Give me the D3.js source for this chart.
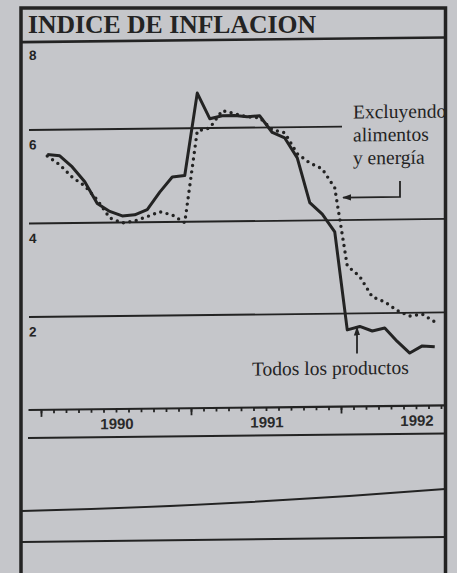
<!DOCTYPE html>
<html>
<head>
<meta charset="utf-8">
<script src="https://cdn.jsdelivr.net/npm/d3@7"></script>
<style>
  html, body { margin: 0; padding: 0; background: #c5c6ca; }
  svg { display: block; }
</style>
</head>
<body>
<svg id="chart" width="457" height="573"></svg>
<script>
// monthly index values, Jan 1990 - Aug 1992
var months = ["1990-01","1990-02","1990-03","1990-04","1990-05","1990-06","1990-07","1990-08","1990-09","1990-10","1990-11","1990-12",
              "1991-01","1991-02","1991-03","1991-04","1991-05","1991-06","1991-07","1991-08","1991-09","1991-10","1991-11","1991-12",
              "1992-01","1992-02","1992-03","1992-04","1992-05","1992-06","1992-07","1992-08"];

// Todos los productos (solid)
var todos = [5.47, 5.44, 5.20, 4.88, 4.41, 4.24, 4.14, 4.16, 4.27, 4.64, 4.96, 4.99,
             6.75, 6.20, 6.26, 6.26, 6.23, 6.25, 5.89, 5.77, 5.34, 4.38, 4.13, 3.75,
             1.65, 1.72, 1.62, 1.68, 1.39, 1.14, 1.29, 1.27];

// Excluyendo alimentos y energia (dotted)
var excluyendo = [5.44, 5.25, 4.98, 4.79, 4.49, 4.10, 3.99, 4.03, 4.12, 4.22, 4.15, 3.98,
                  5.94, 6.00, 6.37, 6.30, 6.23, 6.21, 5.95, 5.88, 5.43, 5.23, 5.10, 4.69,
                  3.02, 2.79, 2.35, 2.24, 2.05, 1.93, 1.97, 1.80];

var yTicks = [2, 4, 6, 8];
var years = ["1990", "1991", "1992"];

var ink = "#232323";
var svg = d3.select("#chart");

var parseMonth = d3.timeParse("%Y-%m");
var start = parseMonth(months[0]);
function monthIndex(m) { return d3.timeMonth.count(start, parseMonth(m)); }

// scales (month index -> x, value -> y)
var x = d3.scaleLinear().domain([0, 24]).range([41, 341]);
var y = d3.scaleLinear().domain([2, 6]).range([317, 130]);

// frame
svg.append("rect")
    .attr("x", 21).attr("y", 8)
    .attr("width", 424.5).attr("height", 570)
    .attr("fill", "none")
    .attr("stroke", ink)
    .attr("stroke-width", 3.5);

svg.append("text")
    .attr("x", 28).attr("y", 33)
    .attr("font-family", "Liberation Serif, Times New Roman, serif")
    .attr("font-weight", "bold")
    .attr("font-size", 26)
    .attr("textLength", 288)
    .attr("lengthAdjust", "spacingAndGlyphs")
    .attr("fill", ink)
    .text("INDICE DE INFLACION");

// the scan is slightly tilted: skew everything inside the frame a little
var k = 0.011;
var g = svg.append("g")
    .attr("transform", "translate(0," + (k * 30) + ") skewY(" + (-Math.atan(k) * 180 / Math.PI) + ")");

// title rule (doubles as the 8 line)
g.append("line")
    .attr("x1", 22).attr("x2", 445)
    .attr("y1", 42).attr("y2", 42)
    .attr("stroke", ink).attr("stroke-width", 2.6);

// grid lines
g.selectAll(".grid")
    .data(yTicks.filter(function(d) { return d < 8; }))
    .enter().append("line")
    .attr("class", "grid")
    .attr("x1", 29)
    .attr("x2", function(d) { return d === 6 ? 342 : 445; })
    .attr("y1", function(d) { return y(d); })
    .attr("y2", function(d) { return y(d); })
    .attr("stroke", ink).attr("stroke-width", 1.8);

// y labels, under each line
g.selectAll(".ylab")
    .data(yTicks)
    .enter().append("text")
    .attr("class", "ylab")
    .attr("x", 29)
    .attr("y", function(d) { return d === 8 ? 60 : y(d) + 19.5; })
    .attr("font-family", "Liberation Sans, Arial, sans-serif")
    .attr("font-weight", "bold")
    .attr("font-size", 13.5)
    .attr("fill", ink)
    .text(function(d) { return d; });

// x axis
var axisY = 410;
g.append("line")
    .attr("x1", x(-1)).attr("x2", 445)
    .attr("y1", axisY).attr("y2", axisY)
    .attr("stroke", ink).attr("stroke-width", 2.2);

g.append("g")
    .attr("transform", "translate(0," + axisY + ")")
    .call(d3.axisBottom(x).tickValues(d3.range(0, 33)).tickSize(3.5).tickFormat(""));
g.append("g")
    .attr("transform", "translate(0," + axisY + ")")
    .call(d3.axisBottom(x).tickValues([0, 12, 24]).tickSize(7).tickFormat(""));
g.selectAll(".domain").remove();
g.selectAll(".tick line").attr("stroke", ink).attr("stroke-width", 1.8);

g.selectAll(".year")
    .data(years)
    .enter().append("text")
    .attr("class", "year")
    .attr("x", function(d, i) { return x(i * 12 + 6) + 1; })
    .attr("y", axisY + 20)
    .attr("text-anchor", "middle")
    .attr("font-family", "Liberation Sans, Arial, sans-serif")
    .attr("font-weight", "bold")
    .attr("font-size", 15)
    .attr("fill", "#2a2a2a")
    .text(function(d) { return d; });

// lines
var line = d3.line()
    .x(function(d, i) { return x(monthIndex(months[i]) + 0.5); })
    .y(function(d) { return y(d); });

g.append("path")
    .datum(excluyendo)
    .attr("d", line)
    .attr("fill", "none")
    .attr("stroke", ink)
    .attr("stroke-width", 3.4)
    .attr("stroke-linecap", "round")
    .attr("stroke-dasharray", "0,6.5");

g.append("path")
    .datum(todos)
    .attr("d", line)
    .attr("fill", "none")
    .attr("stroke", ink)
    .attr("stroke-width", 3)
    .attr("stroke-linejoin", "round");

// annotations
var serif = "Liberation Serif, Times New Roman, serif";
g.append("text")
    .attr("x", 353).attr("y", 122)
    .attr("font-family", serif).attr("font-size", 19.5).attr("fill", ink)
    .selectAll("tspan")
    .data(["Excluyendo", "alimentos", "y energía"])
    .enter().append("tspan")
    .attr("x", 353)
    .attr("dy", function(d, i) { return i === 0 ? 0 : 23; })
    .text(function(d) { return d; });

g.append("text")
    .attr("x", 252).attr("y", 378)
    .attr("font-family", serif).attr("font-size", 19.5).attr("fill", ink)
    .text("Todos los productos");

svg.append("defs").append("marker")
    .attr("id", "head")
    .attr("viewBox", "0 0 10 10")
    .attr("refX", 9).attr("refY", 5)
    .attr("markerWidth", 9).attr("markerHeight", 9)
    .attr("markerUnits", "userSpaceOnUse")
    .attr("orient", "auto")
    .append("path")
    .attr("d", "M0,1.5 L10,5 L0,8.5 Z")
    .attr("fill", ink);

g.append("path")
    .attr("d", "M400,185 L400,201 L343,201")
    .attr("fill", "none").attr("stroke", ink).attr("stroke-width", 1.8)
    .attr("marker-end", "url(#head)");

g.append("path")
    .attr("d", "M357,357 L357,331")
    .attr("fill", "none").attr("stroke", ink).attr("stroke-width", 1.8)
    .attr("marker-end", "url(#head)");

// page rules below the chart (part of the clipping)
g.append("line")
    .attr("x1", 28).attr("x2", 445)
    .attr("y1", 438).attr("y2", 438)
    .attr("stroke", ink).attr("stroke-width", 2);
svg.append("path")
    .attr("d", "M22,511 Q230,506 445,489")
    .attr("fill", "none").attr("stroke", ink).attr("stroke-width", 2);
svg.append("path")
    .attr("d", "M22,542 L445,537")
    .attr("fill", "none").attr("stroke", ink).attr("stroke-width", 2);
</script>
</body>
</html>
